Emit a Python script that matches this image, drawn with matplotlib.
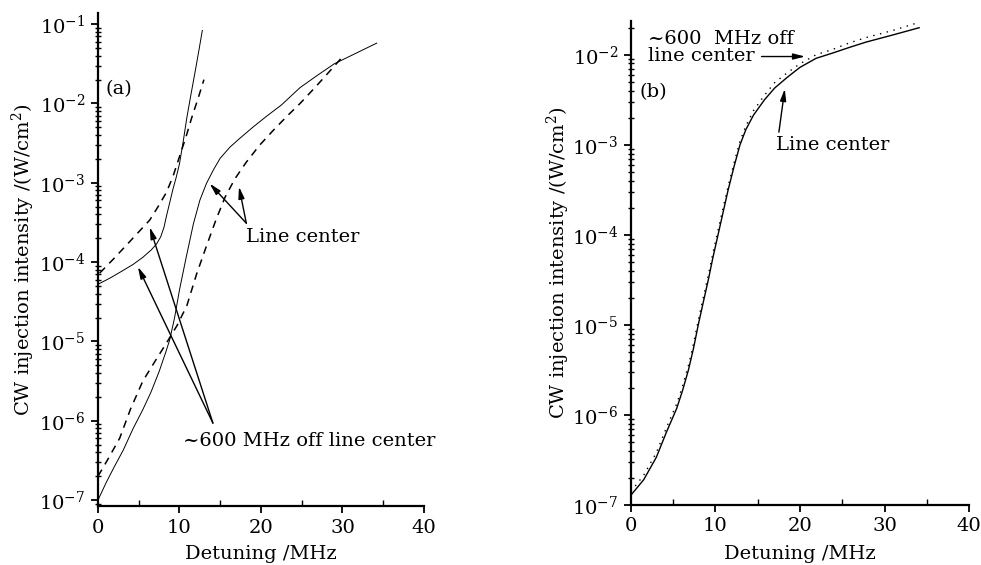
import numpy as np
import matplotlib
matplotlib.use("Agg")
import matplotlib.pyplot as plt
from matplotlib.ticker import LogLocator, MultipleLocator

plt.rcParams['font.family'] = ['DejaVu Serif']
plt.rcParams['mathtext.fontset'] = 'dejavuserif'

# ---- panel (a) data, intensities stored as log10(W/cm^2) ----
a_offc_sol_x = [0, 1.5, 3, 4.3, 5.5, 6.5, 7.2, 7.7, 8.1, 8.4, 8.8, 9.2, 9.6, 10, 10.5, 10.9, 11.4, 11.9, 12.4, 12.8]
a_offc_sol_lg = [-4.28, -4.20, -4.11, -4.03, -3.94, -3.85, -3.77, -3.68, -3.56, -3.42, -3.25, -3.08, -2.93, -2.76, -2.45, -2.18, -1.89, -1.61, -1.32, -1.08]

a_offc_dash_x = [0.2, 2, 4, 6.35, 7.5, 8.4, 9.2, 10, 10.8, 11.5, 12.3, 13]
a_offc_dash_lg = [-4.14, -3.95, -3.73, -3.47, -3.28, -3.12, -2.92, -2.67, -2.42, -2.18, -1.93, -1.70]

a_ctr_sol_x = [0, 1, 2, 3.1, 4.3, 5.5, 6.5, 7.5, 8.3, 8.8, 9.4, 10, 10.8, 11.7, 12.5, 13.3, 14.2, 15,
               16.2, 17.4, 19, 20.7, 22.5, 24.8, 27, 29, 31, 34.2]
a_ctr_sol_lg = [-7.0, -6.78, -6.58, -6.37, -6.10, -5.86, -5.64, -5.38, -5.14, -4.98, -4.70, -4.35, -3.95, -3.52,
                -3.22, -3.01, -2.83, -2.69, -2.55, -2.44, -2.30, -2.16, -2.02, -1.80, -1.64, -1.50, -1.40, -1.24]

a_ctr_dash_x = [0, 1.3, 2.66, 4, 5.5, 7, 8.4, 9.7, 10.9, 12.1, 13.3, 14.5, 15.6, 16.8, 18.2, 19.8, 21.5,
                23.2, 24.8, 26.8, 28.9, 30.1]
a_ctr_dash_lg = [-6.70, -6.47, -6.22, -5.85, -5.50, -5.25, -5.02, -4.80, -4.55, -4.15, -3.80, -3.46, -3.18,
                 -2.95, -2.74, -2.53, -2.34, -2.16, -2.00, -1.78, -1.54, -1.40]

# ---- panel (b) data ----
b_x = [0, 1.5, 3.0, 4.2, 5.4, 6.1, 6.8, 7.4, 7.96, 8.55, 9.15, 9.7, 10.3, 10.9, 11.5, 12.2, 12.9, 13.6, 14.5,
       15.8, 17, 18.5, 20, 21.9, 23.9, 25.8, 27.8, 31, 34.1]
b_ctr_lg = [-6.89, -6.72, -6.47, -6.19, -5.93, -5.73, -5.50, -5.26, -5.00, -4.75, -4.50, -4.25, -4.00, -3.75,
            -3.50, -3.24, -3.00, -2.83, -2.67, -2.50, -2.37, -2.25, -2.14, -2.04, -1.98, -1.92, -1.86, -1.78,
            -1.70]
b_offc_lg = [-6.85, -6.67, -6.42, -6.14, -5.88, -5.68, -5.45, -5.21, -4.95, -4.70, -4.45, -4.20, -3.95, -3.70,
             -3.46, -3.20, -2.96, -2.79, -2.62, -2.45, -2.31, -2.20, -2.10, -2.00, -1.94, -1.87, -1.81, -1.73,
             -1.64]

xticks = [0, 10, 20, 30, 40]
ylab = 'CW injection intensity /(W/cm$^2$)'
xlab = 'Detuning /MHz'

fig = plt.figure(figsize=(9.81, 5.65), dpi=100)
ax1 = fig.add_axes([0.0999, 0.1044, 0.3323, 0.8726])
ax2 = fig.add_axes([0.6432, 0.1062, 0.3446, 0.8575])

dash = (0, (5, 4))
ax1.plot(a_offc_sol_x, 10 ** np.array(a_offc_sol_lg), color='k', lw=0.7)
ax1.plot(a_offc_dash_x, 10 ** np.array(a_offc_dash_lg), color='k', lw=1.1, linestyle=dash)
ax1.plot(a_ctr_sol_x, 10 ** np.array(a_ctr_sol_lg), color='k', lw=0.7)
ax1.plot(a_ctr_dash_x, 10 ** np.array(a_ctr_dash_lg), color='k', lw=1.1, linestyle=dash)

ax2.plot(b_x, 10 ** np.array(b_ctr_lg), color='k', lw=1.0)
ax2.plot(b_x, 10 ** np.array(b_offc_lg), color='k', lw=1.0, linestyle=(0, (1, 4)))

ax1.set_ylim(10 ** -7.075, 10 ** -0.86)
ax2.set_ylim(1e-7, 10 ** -1.62)

for ax in (ax1, ax2):
    ax.set_yscale('log')
    ax.set_xlim(0, 40)
    ax.set_xticks(xticks)
    ax.xaxis.set_minor_locator(MultipleLocator(5))
    ax.yaxis.set_major_locator(LogLocator(base=10, numticks=20))
    ax.yaxis.set_minor_locator(LogLocator(base=10, subs=np.arange(2, 10), numticks=20))
    ax.spines['top'].set_visible(False)
    ax.spines['right'].set_visible(False)
    ax.spines['left'].set_linewidth(1.6)
    ax.spines['bottom'].set_linewidth(1.6)
    ax.tick_params(axis='both', which='major', direction='out', length=5, width=1.3, labelsize=14, pad=4)
    ax.tick_params(axis='y', which='minor', direction='inout', length=4, width=1.0)
    ax.tick_params(axis='x', which='minor', direction='in', length=4, width=1.0)
    ax.set_xlabel(xlab, fontsize=14)
    ax.set_ylabel(ylab, fontsize=14)

ax1.xaxis.set_label_coords(0.5, -0.079)
ax2.xaxis.set_label_coords(0.5, -0.083)
ax1.yaxis.set_label_coords(-0.187, 0.5)
ax2.yaxis.set_label_coords(-0.175, 0.5)

arrow = dict(arrowstyle='-|>,head_length=0.7,head_width=0.18', color='k', lw=1.0, shrinkA=0, shrinkB=0)

# panel (a) annotations
ax1.text(0.95, 10 ** -1.82, '(a)', fontsize=14, va='center', ha='left')
ax1.text(18.2, 10 ** -3.69, 'Line center', fontsize=14, va='center', ha='left')
ax1.annotate('', xy=(13.7, 10 ** -3.01), xytext=(18.2, 10 ** -3.51), arrowprops=arrow)
ax1.annotate('', xy=(17.3, 10 ** -3.05), xytext=(18.2, 10 ** -3.51), arrowprops=arrow)
ax1.text(10.4, 10 ** -6.25, '~600 MHz off line center', fontsize=14, va='center', ha='left')
ax1.annotate('', xy=(4.9, 10 ** -4.06), xytext=(14.1, 10 ** -6.03), arrowprops=arrow)
ax1.annotate('', xy=(6.35, 10 ** -3.56), xytext=(14.1, 10 ** -6.03), arrowprops=arrow)

# panel (b) annotations
ax2.text(1.06, 10 ** -2.42, '(b)', fontsize=14, va='center', ha='left')
ax2.text(2.05, 10 ** -1.92, '~600  MHz off\nline center', fontsize=14, va='center', ha='left',
         linespacing=0.95)
ax2.annotate('', xy=(20.6, 10 ** -2.02), xytext=(15.45, 10 ** -2.02), arrowprops=arrow)
ax2.text(17.2, 10 ** -3.0, 'Line center', fontsize=14, va='center', ha='left')
ax2.annotate('', xy=(18.2, 10 ** -2.38), xytext=(17.5, 10 ** -2.86), arrowprops=arrow)

fig.savefig('out.png', dpi=100)
